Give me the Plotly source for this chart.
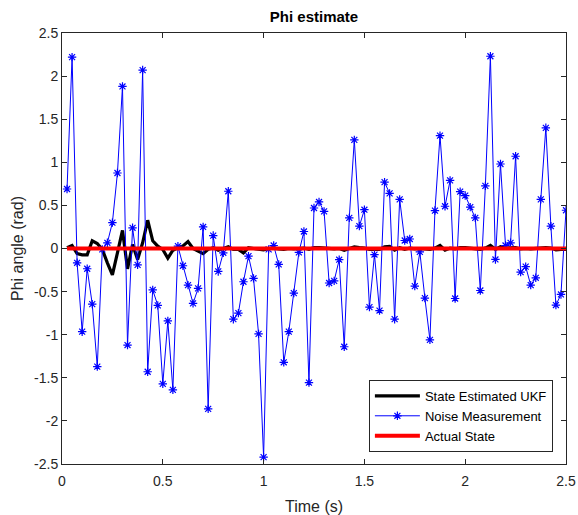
import plotly.graph_objects as go

# sample times (s)
time_s = [round(0.025 * k, 3) for k in range(1, 101)]

noise_meas = [
    0.69, 2.22, -0.166, -0.965, -0.235, -0.645, -1.37, -0.01, 0.066, 0.30,
    0.876, 1.88, -1.12, 0.24, -0.19, 2.07, -1.43, -0.48, -0.66, -1.57,
    -0.84, -1.64, 0.027, -0.2, -0.425, -0.637, -0.463, 0.25, -1.86, 0.15,
    -0.266, -0.05, 0.664, -0.82, -0.75, -0.386, -0.089, -0.347, -0.99, -2.42,
    -0.01, 0.035, -0.185, -1.32, -0.965, -0.517, -0.045, 0.197, -1.556, 0.47,
    0.54, 0.43, -0.40, -0.375, -0.13, -1.14, 0.355, 1.26, 0.26, 0.45,
    -0.68, -0.07, -0.72, 0.77, 0.64, -0.82, 0.57, 0.093, 0.11, -0.436,
    -0.04, -0.575, -1.06, 0.44, 1.31, 0.49, 0.79, -0.58, 0.66, 0.614,
    0.48, 0.355, -0.487, 0.726, 2.23, -0.127, 0.98, 0.035, 0.066, 1.07,
    -0.274, -0.21, -0.425, -0.34, 0.57, 1.40, 0.26, -0.656, -0.533, 0.444,
]

ukf_est = [
    0.008, 0.035, -0.058, -0.073, -0.073, 0.089, 0.058, -0.012, -0.166, -0.305,
    -0.05, 0.21, -0.236, 0.046, -0.127, 0.066, 0.328, 0.089, 0.027, -0.012,
    -0.112, -0.02, 0.008, 0.03, 0.08, 0.0, -0.03, -0.06, -0.01, 0.01,
    -0.02, 0.0, 0.02, -0.01, -0.01, -0.05, 0.01, 0.0, -0.01, -0.015,
    0.0, 0.005, -0.005, -0.01, 0.0, -0.005, 0.0, 0.005, -0.01, 0.01,
    0.01, 0.005, -0.005, -0.005, 0.0, -0.02, 0.0, 0.02, 0.01, 0.005,
    -0.01, -0.01, -0.01, 0.02, 0.025, -0.02, 0.01, -0.01, 0.005, -0.005,
    0.0, -0.005, -0.01, 0.005, 0.035, -0.02, 0.005, -0.005, 0.01, 0.01,
    0.005, 0.0, -0.01, 0.005, 0.035, -0.01, 0.02, 0.005, 0.01, 0.01,
    -0.005, 0.0, -0.005, 0.0, 0.005, 0.01, 0.005, -0.015, -0.01, -0.01,
]

actual_state = [0.0] * 100

x_ticks = [0, 0.5, 1, 1.5, 2, 2.5]
x_tick_labels = ["0", "0.5", "1", "1.5", "2", "2.5"]
y_ticks = [-2.5, -2, -1.5, -1, -0.5, 0, 0.5, 1, 1.5, 2, 2.5]
y_tick_labels = ["-2.5", "-2", "-1.5", "-1", "-0.5", "0", "0.5", "1", "1.5", "2", "2.5"]

FONT = "Liberation Sans, Arial, sans-serif"
AX = "#262626"

fig = go.Figure()
fig.add_trace(go.Scatter(x=time_s, y=ukf_est, mode="lines",
                         name="State Estimated UKF",
                         line=dict(color="black", width=3.2)))
fig.add_trace(go.Scatter(x=time_s, y=noise_meas, mode="lines+markers",
                         name="Noise Measurement",
                         line=dict(color="#0000ff", width=1),
                         marker=dict(symbol="asterisk-open", size=7,
                                     color="#0000ff",
                                     line=dict(color="#0000ff", width=1.2))))
fig.add_trace(go.Scatter(x=time_s, y=actual_state, mode="lines",
                         name="Actual State",
                         line=dict(color="#ff0000", width=4)))

axis_common = dict(showgrid=False, zeroline=False, showline=True,
                   linecolor=AX, linewidth=1, mirror="ticks",
                   ticks="inside", ticklen=5, tickcolor=AX, tickwidth=1,
                   automargin=False,
                   tickfont=dict(family=FONT, size=14, color=AX))

fig.update_layout(
    width=578, height=515,
    margin=dict(l=62, r=12, t=33, b=51, autoexpand=False),
    paper_bgcolor="white", plot_bgcolor="white",
    font=dict(family=FONT, color=AX),
    title=dict(text="<b>Phi estimate</b>", x=0.5, xref="paper",
               y=1 - 17 / 515, yref="container", yanchor="middle",
               xanchor="center", automargin=False,
               font=dict(family=FONT, size=15, color="black")),
    xaxis=dict(range=[0, 2.5], tickvals=x_ticks, ticktext=x_tick_labels,
               ticklabelstandoff=4,
               title=dict(text="Time (s)", standoff=14,
                          font=dict(family=FONT, size=16, color=AX)),
               **axis_common),
    yaxis=dict(range=[-2.5, 2.5], tickvals=y_ticks, ticktext=y_tick_labels,
               title=dict(text="Phi angle (rad)", standoff=6,
                          font=dict(family=FONT, size=16, color=AX)),
               **axis_common),
    legend=dict(x=0.974, y=0.028, xanchor="right", yanchor="bottom",
                bgcolor="white", bordercolor=AX, borderwidth=1,
                font=dict(family=FONT, size=13, color="black"),
                tracegroupgap=0, itemwidth=45),
    showlegend=True,
)

fig.write_html("out.html",
               config={"displayModeBar": False},
               post_script="document.body.style.margin='0px';"
                           "document.body.style.overflow='hidden';")
